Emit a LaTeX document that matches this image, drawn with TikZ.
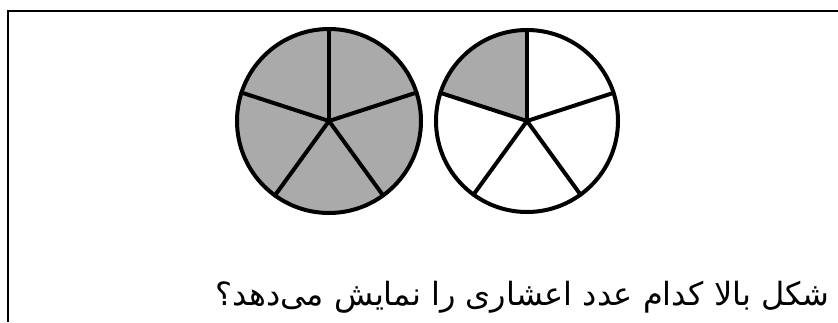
\documentclass[tikz,border=0pt]{standalone}
\usepackage{fontspec}
\newfontfamily\arabicfont[Script=Arabic]{DejaVu Sans}
\TeXXeTstate=1
\definecolor{sectorgray}{RGB}{170,170,170}
\tikzset{
  frameline/.style={line width=2pt, black},
  rim/.style={line width=4pt, black},
  spoke/.style={line width=4pt, black, line cap=round},
}
\begin{document}
\begin{tikzpicture}[x=1pt,y=1pt]
\useasboundingbox (0,0) rectangle (838,322);
% frame: top and left lines
\coordinate (tl) at (8,311);
\coordinate (tr) at (838,311);
\coordinate (bl) at (8,0);
\draw[frameline] (tr) -- (tl) -- (bl);
% left circle: all shaded
\coordinate (c1) at (329,201);
\fill[sectorgray] (c1) circle (92);
\foreach \a in {90,18,-54,-126,162} \draw[spoke] (c1) -- ++(\a:92);
\draw[rim] (c1) circle (92);
% right circle: one of five shaded
\coordinate (c2) at (527,201);
\fill[sectorgray] (c2) -- ++(90:91) arc (90:162:91) -- cycle;
\foreach \a in {90,18,-54,-126,162} \draw[spoke] (c2) -- ++(\a:91);
\draw[rim] (c2) circle (91);
% question text
\node[anchor=base east, inner sep=0pt, font=\arabicfont\fontsize{32}{36}\selectfont] (q) at (830,17)
  {\beginR شکل بالا کدام عدد اعشاری را نمایش می‌دهد؟\endR};
\end{tikzpicture}
\end{document}
